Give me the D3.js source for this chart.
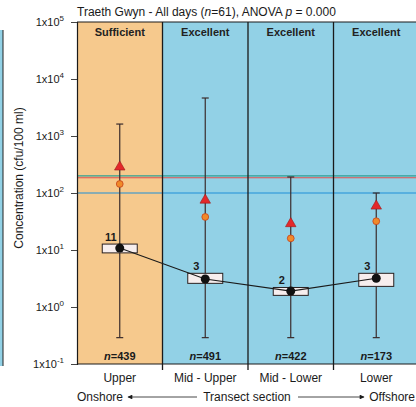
<!DOCTYPE html>
<html><head><meta charset="utf-8">
<script src="https://cdn.jsdelivr.net/npm/d3@7"></script>
<style>body{margin:0;background:#fff}svg{display:block;font-family:"Liberation Sans",Arial,sans-serif}</style>
</head><body><svg id="c" width="416" height="407"></svg>
<script>
const sections = ["Upper","Mid - Upper","Mid - Lower","Lower"];
const quality = ["Sufficient","Excellent","Excellent","Excellent"];
const nCounts = [439,491,422,173];
const meanVals = [10.8,3.1,1.9,3.2];
const meanLabels = ["11","3","2","3"];
const boxLow = [8.9,2.6,1.6,2.3];
const boxHigh = [12.7,3.9,2.2,3.9];
const maxVals = [1620,4640,191,100];
const minVals = [0.29,0.29,0.29,0.29];
const p95 = [286,75,29,59];
const p90 = [144,38,16,32];
const standardVals = [200,185,100];
const standardColors = ["#2f9e94","#e2504c","#1f8fd8"];
const tickExps = [-1,0,1,2,3,4,5];

const svg = d3.select("#c");
const L=77, R=419, T=22, B=364;
const x = d3.scaleBand().domain(sections).range([L,R]).paddingInner(0).paddingOuter(0);
const y = d3.scaleLog().domain([0.1,1e5]).range([B,T]);
const bw = x.bandwidth();
const cx = s => x(s)+bw/2;
const panelColor = q => q==="Sufficient" ? "#f6c98d" : "#92d1e6";

// neighbour chart fragment at the left edge
svg.append("rect").attr("x",0).attr("y",30).attr("width",3).attr("height",336).attr("fill","#92d1e6");
svg.append("line").attr("x1",3).attr("x2",3).attr("y1",30).attr("y2",366).attr("stroke","#222").attr("stroke-width",1);

// panels
svg.selectAll("rect.panel").data(sections).join("rect").attr("class","panel")
  .attr("x",d=>x(d)).attr("y",T).attr("width",bw).attr("height",B-T)
  .attr("fill",(d,i)=>panelColor(quality[i]));

// standards lines
svg.selectAll("line.std").data(standardVals).join("line").attr("class","std")
  .attr("x1",L).attr("x2",R).attr("y1",d=>y(d)).attr("y2",d=>y(d))
  .attr("stroke",(d,i)=>standardColors[i]).attr("stroke-width",1.2);

// dividers
svg.selectAll("line.div").data(sections.slice(1)).join("line").attr("class","div")
  .attr("x1",d=>x(d)).attr("x2",d=>x(d)).attr("y1",T).attr("y2",B+6)
  .attr("stroke","#1a1a1a").attr("stroke-width",1.3);

// border
svg.append("line").attr("x1",L).attr("x2",R).attr("y1",T).attr("y2",T).attr("stroke","#1a1a1a").attr("stroke-width",1.2);
svg.append("line").attr("x1",L).attr("x2",R).attr("y1",B).attr("y2",B).attr("stroke","#1a1a1a").attr("stroke-width",1.2);

// y axis
const yAxis = d3.axisLeft(y).tickValues(tickExps.map(e=>Math.pow(10,e))).tickSize(6).tickFormat("");
const ga = svg.append("g").attr("transform",`translate(${L},0)`).call(yAxis);
ga.select(".domain").attr("stroke","#1a1a1a").attr("stroke-width",1.2);
ga.selectAll(".tick line").attr("stroke","#444");
const tl = svg.append("g");
tickExps.forEach(e=>{
  const t = tl.append("text").attr("x",64).attr("y",y(Math.pow(10,e))+4).attr("text-anchor","end")
    .attr("font-size",11).attr("fill","#1a1a1a");
  t.append("tspan").text("1x10");
  t.append("tspan").attr("font-size",8).attr("dy",-5).text(e);
});

// y title
svg.append("text").attr("transform","translate(23,178) rotate(-90)").attr("text-anchor","middle")
  .attr("font-size",12).attr("fill","#1a1a1a").text("Concentration (cfu/100 ml)");

// title
const title = svg.append("text").attr("x",77).attr("y",16).attr("font-size",12).attr("fill","#1a1a1a");
title.append("tspan").text("Traeth Gwyn - All days (");
title.append("tspan").attr("font-style","italic").text("n");
title.append("tspan").text("=61), ANOVA ");
title.append("tspan").attr("font-style","italic").text("p");
title.append("tspan").text(" = 0.000");

// quality labels
svg.selectAll("text.q").data(sections).join("text").attr("class","q")
  .attr("x",d=>cx(d)).attr("y",36).attr("text-anchor","middle").attr("font-size",11)
  .attr("font-weight","bold").attr("fill","#222").text((d,i)=>quality[i]);

// error bars
const gE = svg.append("g");
sections.forEach((s,i)=>{
  const c = cx(s);
  gE.append("line").attr("x1",c).attr("x2",c).attr("y1",y(maxVals[i])).attr("y2",y(minVals[i]))
    .attr("stroke","#3a2c2c").attr("stroke-width",1.2);
  [maxVals[i],minVals[i]].forEach(v=>gE.append("line").attr("x1",c-3.5).attr("x2",c+3.5)
    .attr("y1",y(v)).attr("y2",y(v)).attr("stroke","#3a2c2c").attr("stroke-width",1.2));
});

// triangles and diamonds
svg.selectAll("path.tri").data(sections).join("path").attr("class","tri")
  .attr("d",d3.symbol(d3.symbolTriangle,48)())
  .attr("transform",(d,i)=>`translate(${cx(d)},${y(p95[i])})`)
  .attr("fill","#e4282a").attr("stroke","#9a1a1a").attr("stroke-width",0.6);
svg.selectAll("circle.p90").data(sections).join("circle").attr("class","p90")
  .attr("cx",d=>cx(d)).attr("cy",(d,i)=>y(p90[i])).attr("r",3.4)
  .attr("fill","#f08a2a").attr("stroke","#c8401a").attr("stroke-width",0.8);

// boxes
svg.selectAll("rect.box").data(sections).join("rect").attr("class","box")
  .attr("x",d=>cx(d)-17.5).attr("width",35)
  .attr("y",(d,i)=>y(boxHigh[i])).attr("height",(d,i)=>y(boxLow[i])-y(boxHigh[i]))
  .attr("fill","#f7eeee").attr("stroke","#2a2020").attr("stroke-width",1);

// mean line
const line = d3.line().x((d,i)=>cx(sections[i])).y(d=>y(d));
svg.append("path").attr("d",line(meanVals)).attr("fill","none").attr("stroke","#1a1a1a").attr("stroke-width",1.1);
svg.selectAll("circle.mean").data(sections).join("circle").attr("class","mean")
  .attr("cx",d=>cx(d)).attr("cy",(d,i)=>y(meanVals[i])).attr("r",4.5).attr("fill","#111");
svg.selectAll("text.ml").data(sections).join("text").attr("class","ml")
  .attr("x",d=>cx(d)-9).attr("y",(d,i)=>y(boxHigh[i])-3).attr("text-anchor","middle")
  .attr("font-size",11).attr("font-weight","bold").attr("fill","#1a1a1a").text((d,i)=>meanLabels[i]);

// n labels
svg.selectAll("text.n").data(sections).join("text").attr("class","n")
  .attr("x",d=>cx(d)).attr("y",360).attr("text-anchor","middle").attr("font-size",11)
  .attr("font-weight","bold").attr("fill","#1a1a1a")
  .each(function(d,i){
    const t=d3.select(this);
    t.append("tspan").attr("font-style","italic").text("n");
    t.append("tspan").text("="+nCounts[i]);
  });

// x labels
svg.selectAll("text.xl").data(sections).join("text").attr("class","xl")
  .attr("x",d=>cx(d)).attr("y",382).attr("text-anchor","middle").attr("font-size",12)
  .attr("fill","#1a1a1a").text(d=>d);

// direction row
svg.append("defs").html('<marker id="ah" viewBox="0 0 10 10" refX="9" refY="5" markerWidth="7" markerHeight="6" orient="auto-start-reverse"><path d="M0,0L10,5L0,10z" fill="#1a1a1a"/></marker>');
svg.append("text").attr("x",77).attr("y",401).attr("font-size",12).attr("fill","#1a1a1a").text("Onshore");
svg.append("text").attr("x",247).attr("y",401).attr("text-anchor","middle").attr("font-size",12).attr("fill","#1a1a1a").text("Transect section");
svg.append("text").attr("x",415).attr("y",401).attr("text-anchor","end").attr("font-size",12).attr("fill","#1a1a1a").text("Offshore");
svg.append("line").attr("x1",197).attr("x2",128).attr("y1",397).attr("y2",397).attr("stroke","#1a1a1a").attr("stroke-width",0.8).attr("marker-end","url(#ah)");
svg.append("line").attr("x1",298).attr("x2",364).attr("y1",397).attr("y2",397).attr("stroke","#1a1a1a").attr("stroke-width",0.8).attr("marker-end","url(#ah)");
</script></body></html>
